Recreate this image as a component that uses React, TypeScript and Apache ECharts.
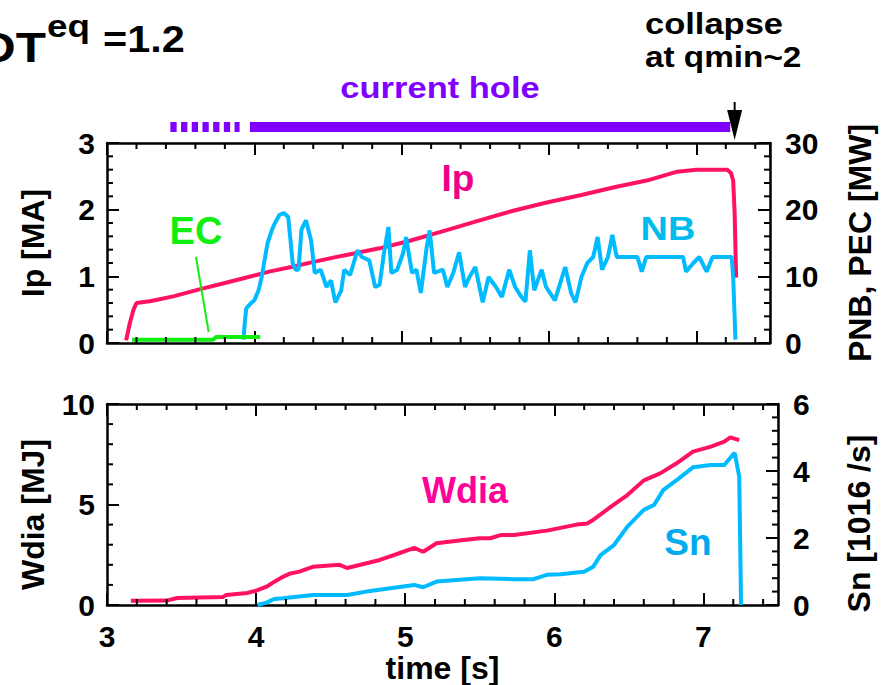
import React, { useEffect, useRef } from "react";
import * as echarts from "echarts";

// ---------- data (time in s) ----------
const ipT = [3.13, 3.155, 3.18, 3.2, 3.3, 3.45, 3.62, 3.8, 3.96, 4.1, 4.25, 4.41, 4.6, 4.85, 5.05, 5.3, 5.5, 5.75, 5.97, 6.22, 6.45, 6.67, 6.87, 7.0, 7.21, 7.235, 7.25, 7.26, 7.27];
const ipV = [0.04, 0.3, 0.5, 0.6, 0.63, 0.7, 0.8, 0.9, 0.99, 1.07, 1.14, 1.22, 1.31, 1.42, 1.53, 1.69, 1.82, 1.98, 2.1, 2.22, 2.34, 2.44, 2.57, 2.6, 2.6, 2.55, 2.44, 1.95, 0.98];

const nbT = [3.926, 3.935, 3.945, 3.97, 4.0, 4.03, 4.05, 4.07, 4.09, 4.12, 4.14, 4.17, 4.2, 4.23, 4.245, 4.26, 4.28, 4.3, 4.32, 4.35, 4.385, 4.41, 4.45, 4.49, 4.52, 4.55, 4.59, 4.61, 4.65, 4.7, 4.73, 4.78, 4.82, 4.85, 4.88, 4.91, 4.93, 4.97, 5.01, 5.03, 5.07, 5.1, 5.13, 5.17, 5.19, 5.22, 5.28, 5.31, 5.35, 5.39, 5.43, 5.46, 5.5, 5.55, 5.59, 5.64, 5.68, 5.73, 5.77, 5.81, 5.84, 5.87, 5.9, 5.95, 5.98, 6.04, 6.11, 6.15, 6.18, 6.22, 6.26, 6.3, 6.33, 6.36, 6.4, 6.43, 6.46, 6.51, 6.6, 6.63, 6.66, 6.91, 6.93, 6.98, 7.02, 7.07, 7.11, 7.24, 7.25, 7.26, 7.265];
const nbV = [0.5, 3.0, 5.2, 5.8, 6.4, 8.0, 9.9, 12.5, 15.0, 17.0, 18.0, 19.2, 19.5, 18.9, 15.5, 12.0, 11.0, 11.0, 17.0, 18.4, 15.4, 10.5, 11.0, 8.4, 9.4, 6.1, 7.9, 11.0, 10.2, 13.9, 12.9, 12.4, 8.4, 8.7, 13.5, 17.4, 10.5, 11.0, 13.5, 15.9, 10.5, 11.0, 7.5, 14.4, 16.9, 10.5, 11.0, 8.4, 10.5, 13.6, 8.4, 9.9, 11.4, 6.1, 9.9, 8.4, 6.9, 11.0, 8.4, 7.0, 6.2, 13.9, 7.9, 11.0, 8.4, 6.4, 11.4, 7.5, 6.1, 9.9, 12.0, 12.9, 15.9, 11.0, 12.9, 16.2, 12.9, 12.9, 12.9, 10.7, 12.9, 12.9, 10.7, 12.0, 12.9, 10.7, 12.9, 12.9, 9.9, 3.9, 0.5];

const ecT = [3.17, 3.72, 3.74, 4.04];
const ecV = [0.5, 0.5, 0.9, 0.9];

const wT = [3.16, 3.4, 3.47, 3.78, 3.8, 3.94, 4.0, 4.07, 4.12, 4.18, 4.23, 4.29, 4.38, 4.56, 4.61, 4.7, 4.83, 4.95, 5.06, 5.12, 5.21, 5.39, 5.5, 5.57, 5.64, 5.73, 5.95, 6.05, 6.15, 6.22, 6.26, 6.38, 6.49, 6.6, 6.71, 6.82, 6.93, 7.05, 7.14, 7.18, 7.24];
const wV = [0.21, 0.22, 0.35, 0.4, 0.5, 0.6, 0.71, 0.91, 1.15, 1.4, 1.57, 1.66, 1.9, 2.0, 1.84, 2.0, 2.24, 2.55, 2.84, 2.65, 3.07, 3.23, 3.32, 3.32, 3.48, 3.48, 3.7, 3.85, 4.0, 4.06, 4.23, 4.89, 5.47, 6.2, 6.55, 7.05, 7.63, 7.88, 8.13, 8.34, 8.2];

const snT = [4.01, 4.07, 4.12, 4.18, 4.38, 4.61, 4.74, 4.9, 5.06, 5.12, 5.21, 5.5, 5.73, 5.86, 5.95, 6.04, 6.2, 6.26, 6.31, 6.4, 6.49, 6.6, 6.67, 6.73, 6.82, 6.93, 7.05, 7.14, 7.2, 7.21, 7.24, 7.25, 7.252];
const snV = [0.0, 0.07, 0.18, 0.2, 0.3, 0.3, 0.4, 0.5, 0.6, 0.53, 0.7, 0.8, 0.77, 0.77, 0.9, 0.92, 0.99, 1.14, 1.49, 1.79, 2.34, 2.84, 2.99, 3.43, 3.73, 4.11, 4.18, 4.18, 4.5, 4.53, 3.83, 0.75, 0.0];

// minor tick positions
const steps = (from: number, to: number, step: number, major: number) => {
  const out: number[] = [];
  const n = Math.round((to - from) / step);
  for (let i = 1; i < n; i++) {
    const v = Math.round((from + i * step) * 1000) / 1000;
    if (Math.abs(v / major - Math.round(v / major)) > 1e-6) out.push(v);
  }
  return out;
};
const xMinorTicks = steps(3, 7.6, 0.2, 1);
const ipMinorTicks = steps(0, 3, 0.2, 1);
const pMinorTicks = steps(0, 30, 2, 10);
const wMinorTicks = steps(0, 10, 1, 5);
const snMinorTicks = steps(0, 6, 0.4, 2);

// annotations (time ranges)
const holeDashed = [3.43, 3.9];
const holeSolid = [3.97, 7.23];
const collapseTime = 7.26;
const ecLeader = [[3.604, 12.9], [3.69, 1.65]];

const FONT = "'Liberation Sans', Arial, Helvetica, sans-serif";
const RED = "#ff1166";
const CYAN = "#00bbff";
const GREEN = "#11ee11";
const PURPLE = "#8000ff";

const zip = (t: number[], v: number[]) => t.map((x, i) => [x, v[i]]);

export default function App() {
  const ref = useRef<HTMLDivElement>(null);
  useEffect(() => {
    document.body.style.margin = "0";
    const chart = echarts.init(ref.current!, null, { renderer: "svg" });
    const lineW = 2.5;
    const tickLabel = { color: "#000", fontFamily: FONT, fontWeight: "bold", fontSize: 30 };
    const nameStyle = { color: "#000", fontFamily: FONT, fontWeight: "bold", fontSize: 32 };
    const tickStyle = { color: "#000", width: 2 };
    const axLine = { show: true, onZero: false, lineStyle: { color: "#000", width: lineW } };
    const MINOR = 6;

    const xMajor = (grid: number, pos: string, labels: boolean, extra: any = {}) => ({
      type: "value", gridIndex: grid, position: pos, min: 3, max: 7.5, interval: 1,
      axisLine: axLine,
      axisTick: { show: true, inside: true, length: 12, lineStyle: tickStyle },
      axisLabel: { show: labels, margin: 16, showMaxLabel: false, ...tickLabel },
      splitLine: { show: false },
      ...extra,
    });
    const yAx = (grid: number, pos: string, max: number, interval: number, name: string, gap: number, pad: number[] = [0, 0, 0, 0]) => ({
      type: "value", gridIndex: grid, position: pos, min: 0, max, interval,
      name, nameLocation: "middle", nameRotate: 90, nameGap: gap,
      nameTextStyle: { ...nameStyle, padding: pad },
      axisLine: axLine,
      axisTick: { show: true, inside: true, length: 12, lineStyle: tickStyle },
      axisLabel: { show: true, margin: pos === "left" ? 12 : 15, ...tickLabel },
      splitLine: { show: false },
    });

    const lineSeries = (name: string, data: number[][], color: string, xi: number, yi: number, width = 4) => ({
      name, type: "line", data, xAxisIndex: xi, yAxisIndex: yi, showSymbol: false, symbol: "none",
      lineStyle: { color, width }, itemStyle: { color }, z: 3,
    });

    // minor tick marks drawn through the axes' own scales
    const xMinorSeries = (xi: number, yi: number, yMax: number) => ({
      type: "custom", xAxisIndex: xi, yAxisIndex: yi, silent: true, clip: false, z: 4,
      data: xMinorTicks.map((t) => [t, 0]),
      encode: { x: 0, y: 1 },
      renderItem: (_p: any, api: any) => {
        const b = api.coord([api.value(0), 0]);
        const t = api.coord([api.value(0), yMax]);
        return {
          type: "group",
          children: [
            { type: "line", shape: { x1: b[0], y1: b[1], x2: b[0], y2: b[1] - MINOR }, style: { stroke: "#000", lineWidth: 2 } },
            { type: "line", shape: { x1: t[0], y1: t[1], x2: t[0], y2: t[1] + MINOR }, style: { stroke: "#000", lineWidth: 2 } },
          ],
        };
      },
    });
    const yMinorSeries = (xi: number, yi: number, ticks: number[], xEdge: number, dir: number) => ({
      type: "custom", xAxisIndex: xi, yAxisIndex: yi, silent: true, clip: false, z: 4,
      data: ticks.map((v) => [xEdge, v]),
      encode: { x: 0, y: 1 },
      renderItem: (_p: any, api: any) => {
        const p = api.coord([api.value(0), api.value(1)]);
        return { type: "line", shape: { x1: p[0], y1: p[1], x2: p[0] + dir * MINOR, y2: p[1] }, style: { stroke: "#000", lineWidth: 2 } };
      },
    });

    chart.setOption({
      animation: false,
      backgroundColor: "#fff",
      grid: [
        { left: 107, right: 106, top: 143, height: 200 },
        { left: 107, right: 106, top: 404, height: 201 },
      ],
      xAxis: [
        xMajor(0, "bottom", false),
        xMajor(0, "top", false),
        xMajor(1, "bottom", true, { name: "time [s]", nameLocation: "middle", nameGap: 42, nameTextStyle: nameStyle }),
        xMajor(1, "top", false),
      ],
      yAxis: [
        yAx(0, "left", 3, 1, "Ip [MA]", 58),
        yAx(0, "right", 30, 10, "PNB, PEC [MW]", 74),
        yAx(1, "left", 10, 5, "Wdia [MJ]", 58, [0, 20, 0, 0]),
        yAx(1, "right", 6, 2, "Sn [1016 /s]", 65, [0, 38, 0, 0]),
      ],
      series: [
        lineSeries("Ip", zip(ipT, ipV), RED, 0, 0),
        lineSeries("NB", zip(nbT, nbV), CYAN, 0, 1),
        lineSeries("EC", zip(ecT, ecV), GREEN, 0, 1),
        lineSeries("Wdia", zip(wT, wV), RED, 2, 2),
        lineSeries("Sn", zip(snT, snV), CYAN, 2, 3),
        xMinorSeries(0, 0, 3),
        xMinorSeries(2, 2, 10),
        yMinorSeries(0, 0, ipMinorTicks, 3, 1),
        yMinorSeries(0, 1, pMinorTicks, 7.5, -1),
        yMinorSeries(2, 2, wMinorTicks, 3, 1),
        yMinorSeries(2, 3, snMinorTicks, 7.5, -1),
      ],
    });

    const px = (t: number) => chart.convertToPixel({ xAxisIndex: 0 }, t) as number;
    const ecA = chart.convertToPixel({ seriesIndex: 2 }, ecLeader[0]) as number[];
    const ecB = chart.convertToPixel({ seriesIndex: 2 }, ecLeader[1]) as number[];
    const ax = px(collapseTime);

    const txt = (text: string, x: number, y: number, size: number, color: string, align: string, sx = 1) => ({
      type: "text", x, y, scaleX: sx, z: 10,
      style: {
        text, fill: color, fontSize: size, fontWeight: "bold", fontFamily: FONT,
        textAlign: align, align, textVerticalAlign: "middle", verticalAlign: "middle",
      },
    });

    chart.setOption({
      graphic: [
        { type: "line", z: 5, shape: { x1: px(holeDashed[0]), y1: 127, x2: px(holeDashed[1]), y2: 127 }, style: { stroke: PURPLE, lineWidth: 10, lineDash: [6.3, 4.4] } },
        { type: "rect", z: 5, shape: { x: px(holeSolid[0]), y: 122, width: px(holeSolid[1]) - px(holeSolid[0]), height: 10 }, style: { fill: PURPLE } },
        { type: "line", z: 6, shape: { x1: ax, y1: 102, x2: ax, y2: 115 }, style: { stroke: "#000", lineWidth: 2 } },
        { type: "polygon", z: 6, shape: { points: [[ax - 7.5, 110], [ax + 7.5, 110], [ax, 140]] }, style: { fill: "#000" } },
        { type: "line", z: 6, shape: { x1: ecA[0], y1: ecA[1], x2: ecB[0], y2: ecB[1] }, style: { stroke: GREEN, lineWidth: 2 } },
        txt("DT", 46, 47.5, 43, "#000", "right", 1.15),
        txt("eq", 47, 25.5, 32, "#000", "left", 1.15),
        txt("=1.2", 103, 38.7, 37, "#000", "left", 1.12),
        txt("collapse", 645, 24, 30, "#000", "left", 1.15),
        txt("at qmin~2", 645, 57, 30, "#000", "left", 1.11),
        txt("current hole", 440, 88, 30, PURPLE, "center", 1.15),
        txt("EC", 196, 231, 38, GREEN, "center"),
        txt("Ip", 458, 178.5, 37, "#ee0088", "center"),
        txt("NB", 668, 229, 33, "#00bbee", "center", 1.15),
        txt("Wdia", 465, 490.5, 36, "#ff0099", "center"),
        txt("Sn", 688, 542.5, 37, "#00aaee", "center"),
      ],
    });

    return () => chart.dispose();
  }, []);
  return <div ref={ref} style={{ position: "absolute", left: 0, top: 0, width: 884, height: 685 }} />;
}
